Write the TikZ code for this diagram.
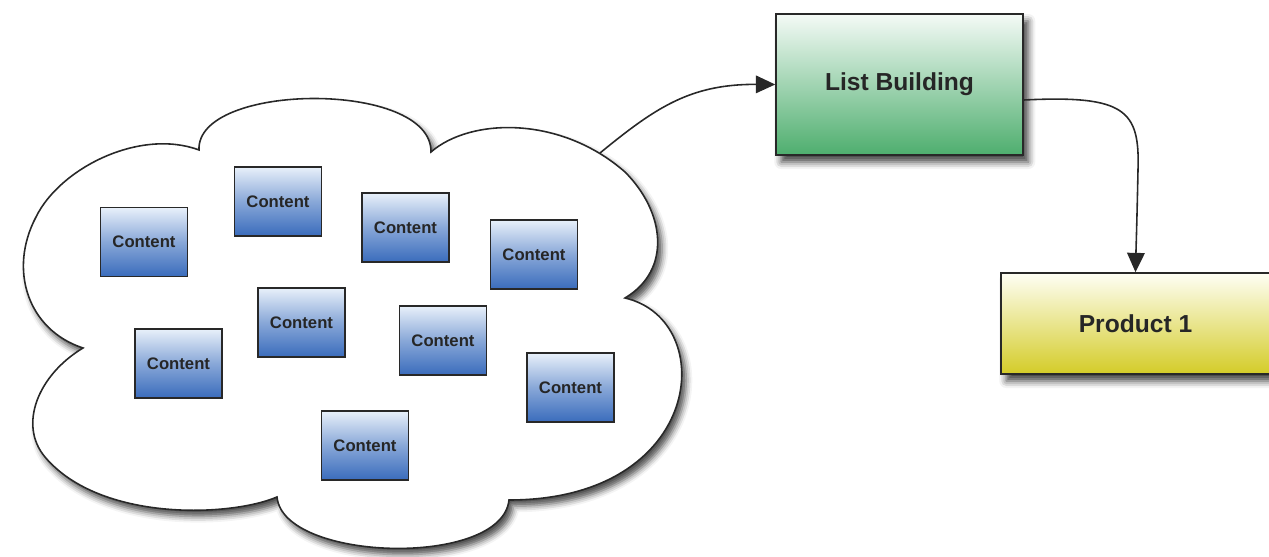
\documentclass[tikz,border=0pt]{standalone}
\usepackage{fontspec}
\setmainfont{Liberation Sans}
\usetikzlibrary{arrows.meta,calc,shadows.blur}
\definecolor{txt}{RGB}{38,38,38}
\definecolor{edge}{RGB}{40,40,40}
\definecolor{lbTop}{RGB}{244,250,246}
\definecolor{lbBot}{RGB}{78,174,110}
\definecolor{pTop}{RGB}{254,254,244}
\definecolor{pBot}{RGB}{212,204,40}
\definecolor{cTop}{RGB}{232,240,250}
\definecolor{cBot}{RGB}{58,108,188}
\begin{document}
\begin{tikzpicture}[x=0.02cm,y=-0.02cm,
  contentbox/.style={draw=edge, line width=0.8pt, minimum width=1.74cm, minimum height=1.38cm,
    inner sep=0pt, top color=cTop, bottom color=cBot, middle color=cTop!45!cBot,
    font=\fontsize{9.5}{11}\selectfont\bfseries, text=txt},
  bigbox/.style={draw=edge, line width=0.9pt, inner sep=0pt,
    font=\fontsize{14}{16}\selectfont\bfseries, text=txt,
    blur shadow={shadow xshift=3pt, shadow yshift=-4pt, shadow blur radius=4pt, shadow opacity=75}},
  cloudline/.style={draw=edge, line width=0.9pt, fill=white,
    blur shadow={shadow xshift=2.5pt, shadow yshift=-3.5pt, shadow blur radius=3.5pt, shadow opacity=70}},
  conn/.style={draw=edge, line width=0.9pt, -{Triangle[length=11pt,width=10pt]}}
]
\useasboundingbox (0,0) rectangle (1269,557);

% cloud
\path[cloudline] (199,150)
 .. controls (196,82) and (432,80) .. (431,152)
 .. controls (470,118) and (560,115) .. (625,172)
 .. controls (665,212) and (672,270) .. (625,298)
 .. controls (720,320) and (705,500) .. (509,500)
 .. controls (502,568) and (283,562) .. (277,497)
 .. controls (230,517) and (100,522) .. (45,457)
 .. controls (18,425) and (38,375) .. (83,348)
 .. controls (28,330) and (8,270) .. (36,217)
 .. controls (60,168) and (140,128) .. cycle;
\coordinate (cloudexit) at (600,153);

% content boxes
\node[contentbox] (c1) at (144,242) {Content};
\node[contentbox] (c2) at (278,201.5) {Content};
\node[contentbox] (c3) at (405.5,227.5) {Content};
\node[contentbox] (c4) at (534,254.5) {Content};
\node[contentbox] (c5) at (301.5,322.5) {Content};
\node[contentbox] (c6) at (178.5,363.5) {Content};
\node[contentbox] (c7) at (443,340.5) {Content};
\node[contentbox] (c8) at (570.5,387.5) {Content};
\node[contentbox] (c9) at (365,445.5) {Content};

% main boxes
\node[bigbox, minimum width=4.94cm, minimum height=2.82cm, top color=lbTop, bottom color=lbBot] (lb) at (899.5,84.5) {List Building};
\node[bigbox, minimum width=5.38cm, minimum height=2.02cm, top color=pTop, bottom color=pBot] (p1) at (1135.5,323.5) {Product 1};

% connectors
\draw[conn] (cloudexit) .. controls (655,108) and (690,84) .. (lb.west);
\coordinate (lbout) at ($(lb.east)+(0,15.5)$);
\draw[conn] (lbout) .. controls (1125,95) and (1140,110) .. (1138,170)
  .. controls (1137,220) and (1136,250) .. (p1.north);
\end{tikzpicture}
\end{document}
